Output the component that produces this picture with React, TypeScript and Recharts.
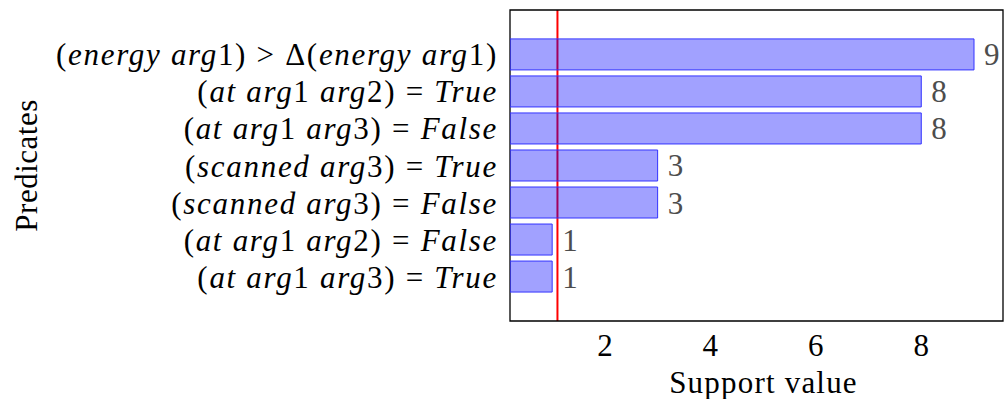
import {
  BarChart,
  Bar,
  XAxis,
  YAxis,
  LabelList,
  CartesianGrid,
  ReferenceArea,
} from "recharts";

const predicates = [
  "(energy arg1) > Δ(energy arg1)",
  "(at arg1 arg2) = True",
  "(at arg1 arg3) = False",
  "(scanned arg3) = True",
  "(scanned arg3) = False",
  "(at arg1 arg2) = False",
  "(at arg1 arg3) = True",
];
const supportValues = [9, 8, 8, 3, 3, 1, 1];
const rowPositions = [0, 1, 2, 3, 4, 5, 6];
const xTicks = [2, 4, 6, 8];
const threshold = 1.1;

const X_DOMAIN: [number, number] = [0.2, 9.55];
const Y_DOMAIN: [number, number] = [-1.2, 7.2];
const FONT = "'Liberation Serif', serif";

const data = predicates.map((name, i) => ({
  name,
  pos: rowPositions[i],
  support: supportValues[i],
}));

// letters in italic (math mode), digits / brackets / operators upright
function MathTick(props: any) {
  const { x, y, payload } = props;
  const label = predicates[payload.value] ?? "";
  const parts = label.split(/([A-Za-z]+)/).filter((p) => p.length > 0);
  return (
    <text
      x={x}
      y={y}
      textAnchor="end"
      dominantBaseline="central"
      fontFamily={FONT}
      fontSize={31}
      letterSpacing={1.7}
      fill="#000"
    >
      {parts.map((p, i) => (
        <tspan key={i} fontStyle={/^[A-Za-z]+$/.test(p) ? "italic" : "normal"}>
          {p}
        </tspan>
      ))}
    </text>
  );
}

function YTitle(props: any) {
  const { viewBox } = props;
  const cx = viewBox.x + 26;
  const cy = viewBox.y + viewBox.height / 2;
  return (
    <text
      x={cx}
      y={cy}
      transform={`rotate(-90 ${cx} ${cy})`}
      textAnchor="middle"
      dominantBaseline="central"
      fontFamily={FONT}
      fontSize={31}
      letterSpacing={0.5}
      fill="#000"
    >
      Predicates
    </text>
  );
}

// threshold line, drawn through the grid layer so it sits under the bars
function thresholdLine({ xAxis, offset }: any) {
  const s = xAxis?.scale;
  if (typeof s === "function") return [s(threshold)];
  if (s && typeof s.map === "function") return [s.map(threshold)];
  return [
    offset.left +
      ((threshold - X_DOMAIN[0]) / (X_DOMAIN[1] - X_DOMAIN[0])) * offset.width,
  ];
}

export default function App() {
  return (
    <div style={{ position: "absolute", left: 0, top: 0, background: "#fff" }}>
      <BarChart
        width={1005}
        height={399}
        data={data}
        layout="vertical"
        margin={{ top: 10, right: 2, left: 0, bottom: 0 }}
      >
        <CartesianGrid
          horizontal={false}
          vertical
          verticalCoordinatesGenerator={thresholdLine}
          stroke="#ff0000"
          strokeWidth={2}
          strokeDasharray=""
        />
        <XAxis
          type="number"
          domain={X_DOMAIN}
          allowDataOverflow
          ticks={xTicks}
          height={78}
          axisLine={false}
          tickLine={false}
          tickSize={0}
          tickMargin={13}
          tick={{ fontSize: 31, fill: "#000", fontFamily: FONT }}
          label={{
            value: "Support value",
            position: "insideBottom",
            offset: 6,
            dx: 7,
            fontSize: 31,
            letterSpacing: 1.2,
            fill: "#000",
            fontFamily: FONT,
          }}
        />
        <YAxis
          type="number"
          dataKey="pos"
          domain={Y_DOMAIN}
          allowDataOverflow
          ticks={rowPositions}
          interval={0}
          width={510}
          axisLine={false}
          tickLine={false}
          tickSize={0}
          tickMargin={12}
          tick={<MathTick />}
          label={<YTitle />}
        />
        <Bar
          dataKey="support"
          barSize={31}
          fill="#0000ff"
          fillOpacity={0.37}
          stroke="#3333ff"
          strokeWidth={1}
          isAnimationActive={false}
        >
          <LabelList
            dataKey="support"
            position="right"
            offset={10}
            fill="#4d4d4d"
            fontSize={31}
            fontFamily={FONT}
          />
        </Bar>
        <ReferenceArea
          x1={X_DOMAIN[0]}
          x2={X_DOMAIN[1]}
          y1={Y_DOMAIN[0]}
          y2={Y_DOMAIN[1]}
          fill="none"
          stroke="#000"
          strokeWidth={1.3}
        />
      </BarChart>
    </div>
  );
}
